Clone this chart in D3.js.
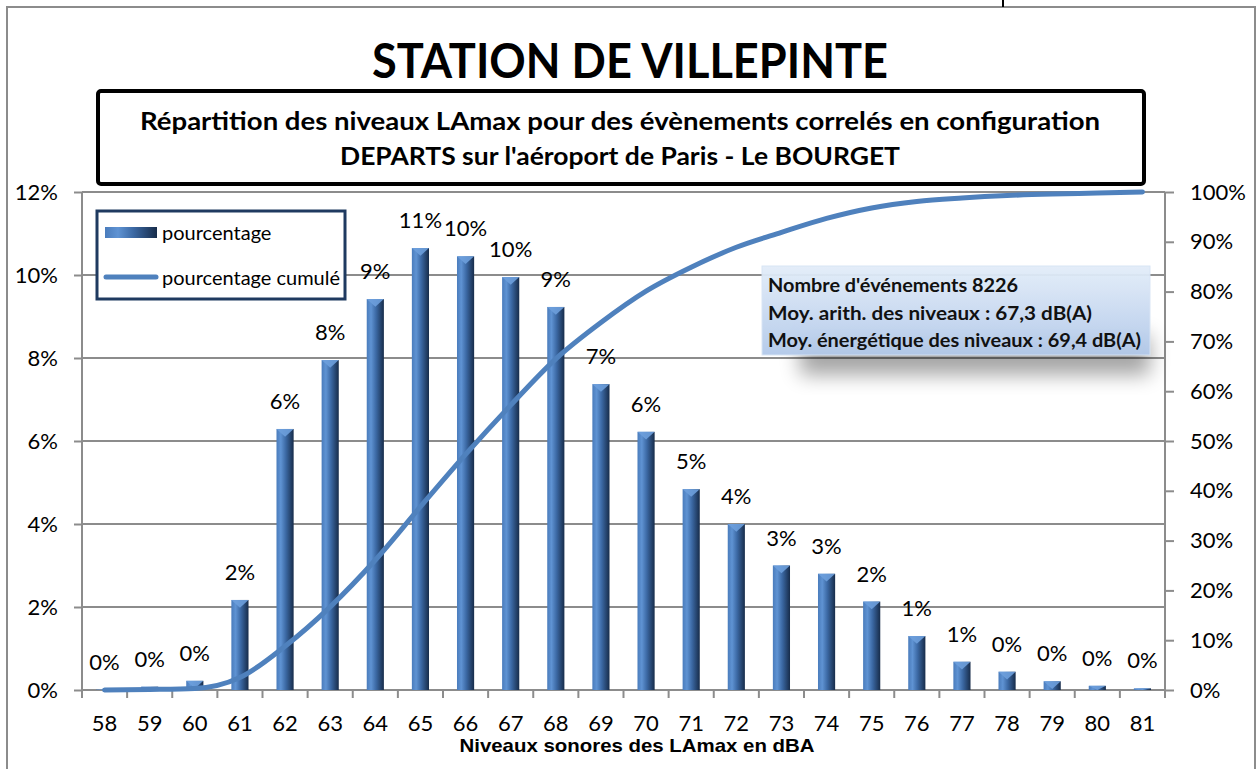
<!DOCTYPE html>
<html lang="fr">
<head>
<meta charset="utf-8">
<title>Station de Villepinte</title>
<script src="https://cdn.jsdelivr.net/npm/d3@7"></script>
<style>
  body { margin: 0; background: #fff; }
  svg { display: block; font-family: Lato, "Open Sans", sans-serif; }
  .axis path, .axis line { stroke: #8c8c8c; stroke-width: 2; }
  .axis text { font-size: 22px; fill: #000; font-family: Lato, sans-serif; }
</style>
</head>
<body>
<script>
// niveaux LAmax (dBA)
var categories = ["58","59","60","61","62","63","64","65","66","67","68","69",
                  "70","71","72","73","74","75","76","77","78","79","80","81"];
// pourcentage (%)
var pourcentage = [0.01, 0.08, 0.22, 2.17, 6.29, 7.95, 9.42, 10.65, 10.45, 9.95, 9.23, 7.37,
                   6.22, 4.84, 4.0, 3.0, 2.8, 2.13, 1.3, 0.68, 0.44, 0.21, 0.1, 0.04];
// pourcentage cumulé (%)
var cumule = [0, 0.1, 0.3, 2.5, 8.8, 16.7, 26.1, 36.8, 47.3, 57.2, 66.5, 73.8,
              80.1, 84.9, 88.9, 91.9, 94.7, 96.8, 98.1, 98.8, 99.3, 99.6, 99.8, 100];
var leftTicks = [0, 2, 4, 6, 8, 10, 12];
var rightTicks = [0, 10, 20, 30, 40, 50, 60, 70, 80, 90, 100];
var infoLines = ["Nombre d'événements 8226",
                 "Moy. arith. des niveaux : 67,3 dB(A)",
                 "Moy. énergétique des niveaux : 69,4 dB(A)"];

var W = 1260, H = 769;
var pLeft = 82, pRight = 1165, pTop = 192, pBottom = 690;

var svg = d3.select("body").append("svg")
  .attr("width", W).attr("height", H);

var defs = svg.append("defs");
var g1 = defs.append("linearGradient").attr("id", "barGrad")
  .attr("x1", 0).attr("x2", 1).attr("y1", 0).attr("y2", 0);
g1.append("stop").attr("offset", "0%").attr("stop-color", "#4a7cbc");
g1.append("stop").attr("offset", "25%").attr("stop-color", "#5f93d3");
g1.append("stop").attr("offset", "55%").attr("stop-color", "#3b68a3");
g1.append("stop").attr("offset", "100%").attr("stop-color", "#172c4a");

var g2 = defs.append("linearGradient").attr("id", "boxGrad")
  .attr("x1", 0).attr("x2", 0).attr("y1", 0).attr("y2", 1);
g2.append("stop").attr("offset", "0%").attr("stop-color", "#e3edf9");
g2.append("stop").attr("offset", "100%").attr("stop-color", "#b2c9ea");

var blur = defs.append("filter").attr("id", "shadow")
  .attr("x", "-20%").attr("y", "-50%").attr("width", "140%").attr("height", "200%");
blur.append("feGaussianBlur").attr("stdDeviation", 10);

// outer frame
svg.append("path")
  .attr("d", "M7," + H + "V7H1255V" + H)
  .attr("fill", "none").attr("stroke", "#8c8c8c").attr("stroke-width", 2);
svg.append("line").attr("x1", 1003).attr("x2", 1003).attr("y1", 0).attr("y2", 7)
  .attr("stroke", "#000").attr("stroke-width", 2);

// title
svg.append("text")
  .attr("x", 630).attr("y", 78)
  .attr("text-anchor", "middle")
  .attr("font-size", 48).attr("font-weight", "bold")
  .attr("textLength", 516).attr("lengthAdjust", "spacingAndGlyphs")
  .text("STATION DE VILLEPINTE");

svg.append("rect")
  .attr("x", 98).attr("y", 91).attr("width", 1046).attr("height", 93)
  .attr("rx", 3)
  .attr("fill", "#fff").attr("stroke", "#000").attr("stroke-width", 4);

svg.append("text")
  .attr("x", 620).attr("y", 130)
  .attr("text-anchor", "middle")
  .attr("font-size", 24).attr("font-weight", "bold")
  .attr("textLength", 960).attr("lengthAdjust", "spacingAndGlyphs")
  .text("Répartition des niveaux LAmax pour des évènements correlés en configuration");
svg.append("text")
  .attr("x", 620).attr("y", 165)
  .attr("text-anchor", "middle")
  .attr("font-size", 24).attr("font-weight", "bold")
  .attr("textLength", 560).attr("lengthAdjust", "spacingAndGlyphs")
  .text("DEPARTS sur l'aéroport de Paris - Le BOURGET");

// scales
var x = d3.scaleBand().domain(categories).range([pLeft, pRight]);
var yL = d3.scaleLinear().domain([0, 12]).range([pBottom, pTop]);
var yR = d3.scaleLinear().domain([0, 100]).range([pBottom, pTop]);

// grid
svg.append("g").selectAll("line")
  .data(leftTicks.filter(function(d) { return d > 0; }))
  .enter().append("line")
  .attr("x1", pLeft).attr("x2", pRight)
  .attr("y1", function(d) { return yL(d); })
  .attr("y2", function(d) { return yL(d); })
  .attr("stroke", "#8c8c8c").attr("stroke-width", 2);

// axes
svg.append("g").attr("class", "axis")
  .attr("transform", "translate(" + pLeft + ",0)")
  .call(d3.axisLeft(yL).tickValues(leftTicks).tickSize(8).tickSizeOuter(0).tickPadding(16)
    .tickFormat(function(d) { return d + "%"; }))
  .call(function(g) { g.select(".domain").attr("d", "M0," + pTop + "V" + (pBottom + 8)); });

svg.append("g").attr("class", "axis")
  .attr("transform", "translate(" + pRight + ",0)")
  .call(d3.axisRight(yR).tickValues(rightTicks).tickSize(9).tickSizeOuter(0).tickPadding(16)
    .tickFormat(function(d) { return d + "%"; }))
  .call(function(g) { g.select(".domain").attr("d", "M0," + pTop + "V" + (pBottom + 8)); });

var xAxis = svg.append("g").attr("class", "axis")
  .attr("transform", "translate(0," + pBottom + ")")
  .call(d3.axisBottom(x).tickSize(0).tickSizeOuter(0).tickPadding(25));
xAxis.select(".domain").attr("d", "M" + pLeft + ",0H" + pRight);
xAxis.selectAll(".sep")
  .data(categories.slice(1))
  .enter().append("line").attr("class", "sep")
  .attr("x1", function(d) { return x(d); }).attr("x2", function(d) { return x(d); })
  .attr("y1", 0).attr("y2", 8);

svg.append("text")
  .attr("x", 637).attr("y", 752)
  .attr("text-anchor", "middle")
  .attr("font-family", "'Liberation Sans', Arial, sans-serif")
  .attr("font-size", 19).attr("font-weight", "bold")
  .attr("textLength", 355).attr("lengthAdjust", "spacingAndGlyphs")
  .text("Niveaux sonores des LAmax en dBA");

// bars
var bw = x.bandwidth() * 0.38;
var bars = svg.append("g").selectAll("g")
  .data(pourcentage)
  .enter().append("g");
bars.append("rect")
  .attr("x", function(d, i) { return x(categories[i]) + x.bandwidth() / 2 - bw / 2; })
  .attr("y", function(d) { return yL(d); })
  .attr("width", bw)
  .attr("height", function(d) { return pBottom - yL(d); })
  .attr("fill", "url(#barGrad)");
bars.append("path")
  .attr("d", function(d, i) {
    var cx = x(categories[i]) + x.bandwidth() / 2, t = yL(d);
    var h = Math.min(bw * 0.45, pBottom - t);
    return "M" + (cx - bw / 2) + "," + t + "H" + (cx + bw / 2) + "L" + cx + "," + (t + h) + "Z";
  })
  .attr("fill", "#6d9fdc").attr("opacity", 0.9);

// cumulative line
var line = d3.line()
  .x(function(d, i) { return x(categories[i]) + x.bandwidth() / 2; })
  .y(function(d) { return yR(d); })
  .curve(d3.curveMonotoneX);
svg.append("path")
  .datum(cumule)
  .attr("d", line)
  .attr("fill", "none")
  .attr("stroke", "#4f81bd").attr("stroke-width", 5)
  .attr("stroke-linecap", "round");

// bar value labels
svg.append("g").selectAll("text")
  .data(pourcentage)
  .enter().append("text")
  .attr("x", function(d, i) { return x(categories[i]) + x.bandwidth() / 2; })
  .attr("y", function(d) { return yL(d) - 20; })
  .attr("text-anchor", "middle")
  .attr("font-size", 22)
  .text(function(d) { return Math.round(d) + "%"; });

// legend
var lg = svg.append("g");
lg.append("rect")
  .attr("x", 97).attr("y", 211).attr("width", 248).attr("height", 88)
  .attr("fill", "#fff").attr("stroke", "#1f3a60").attr("stroke-width", 3);
lg.append("rect")
  .attr("x", 105).attr("y", 227).attr("width", 52).attr("height", 11)
  .attr("fill", "url(#barGrad)");
lg.append("line")
  .attr("x1", 106).attr("x2", 156).attr("y1", 277).attr("y2", 277)
  .attr("stroke", "#4f81bd").attr("stroke-width", 5).attr("stroke-linecap", "round");
lg.append("text").attr("x", 162).attr("y", 240).attr("font-size", 20).text("pourcentage");
lg.append("text").attr("x", 162).attr("y", 285).attr("font-size", 20)
  .attr("textLength", 178).attr("lengthAdjust", "spacingAndGlyphs").text("pourcentage cumulé");

// info box
var ib = svg.append("g");
ib.append("rect")
  .attr("x", 800).attr("y", 335).attr("width", 350).attr("height", 40)
  .attr("fill", "#000").attr("opacity", 0.35).attr("filter", "url(#shadow)");
ib.append("rect")
  .attr("x", 762).attr("y", 266).attr("width", 388).attr("height", 89)
  .attr("fill", "url(#boxGrad)").attr("opacity", 0.95)
  .attr("stroke", "#d6e3f4").attr("stroke-width", 1);
var infoWidths = [250, 324, 373];
ib.selectAll("text")
  .data(infoLines)
  .enter().append("text")
  .attr("x", 768)
  .attr("y", function(d, i) { return 292 + i * 27.5; })
  .attr("font-size", 19).attr("font-weight", "bold")
  .attr("fill", "#111")
  .attr("textLength", function(d, i) { return infoWidths[i]; })
  .attr("lengthAdjust", "spacingAndGlyphs")
  .text(function(d) { return d; });
</script>
</body>
</html>
